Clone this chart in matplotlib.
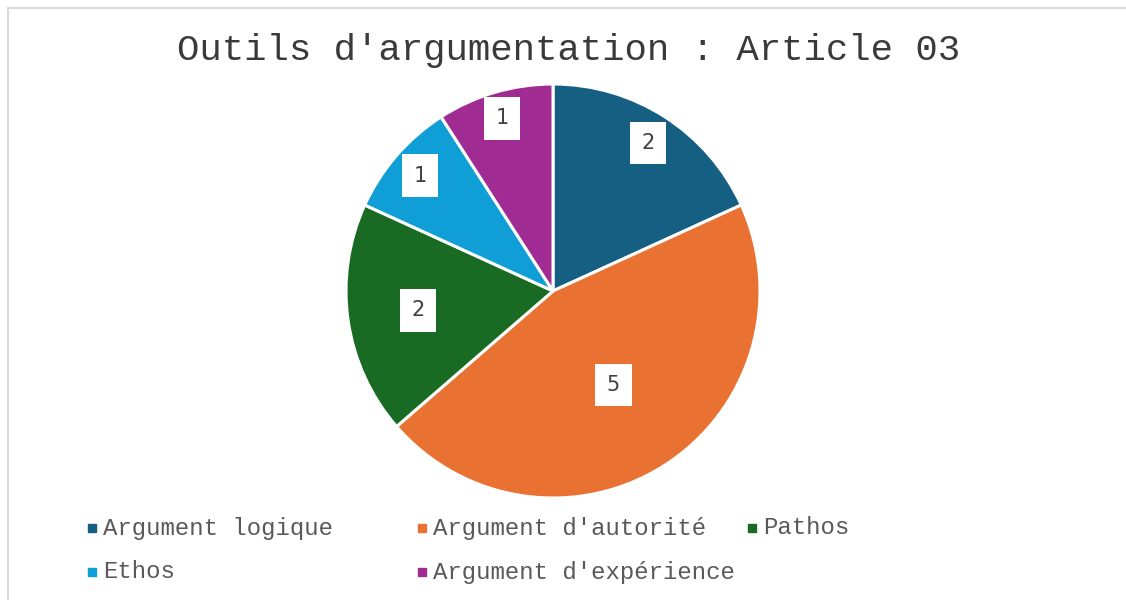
import numpy as np
import matplotlib.pyplot as plt
from matplotlib.patches import Rectangle
from matplotlib.lines import Line2D

labels = ["Argument logique", "Argument d'autorité", "Pathos", "Ethos", "Argument d'expérience"]
values = [2, 5, 2, 1, 1]
colors = ["#156082", "#E97132", "#196B24", "#0F9ED5", "#A02B93"]
label_dist = [0.85, 0.54, 0.66, 0.85, 0.87]

mono = "Liberation Mono"

fig = plt.figure(figsize=(11.26, 6), dpi=100)
fig.patch.set_facecolor("white")

# chart frame (top and left edges only visible)
fig.add_artist(Line2D([8 / 1126, 1], [1 - 8 / 600, 1 - 8 / 600], color="#D9D9D9", lw=1.5))
fig.add_artist(Line2D([8 / 1126, 8 / 1126], [0, 1 - 8 / 600], color="#D9D9D9", lw=1.5))

fig.text(569 / 1126, 1 - 50 / 600, "Outils d'argumentation : Article 03", ha="center", va="center",
         family=mono, fontsize=26.9, color="#3A3A3A")

r = 207
cx, cy = 553, 291
ax = fig.add_axes([(cx - r) / 1126, 1 - (cy + r) / 600, 2 * r / 1126, 2 * r / 600])
wedges, _ = ax.pie(values, colors=colors, startangle=90, counterclock=False,
                   wedgeprops=dict(edgecolor="white", linewidth=2.2))
ax.set_xlim(-1, 1)
ax.set_ylim(-1, 1)
ax.set_aspect("equal")

for w, v, d in zip(wedges, values, label_dist):
    ang = np.deg2rad((w.theta1 + w.theta2) / 2)
    ax.text(d * np.cos(ang), d * np.sin(ang), str(v), ha="center", va="center",
            fontsize=15, color="#404040", family="DejaVu Sans",
            bbox=dict(boxstyle="square,pad=0.55", fc="white", ec="none"))

# legend laid out as in the original: three columns, two rows
cols_x = [88, 418, 748]
rows_y = [528, 572]
for i, (lab, col) in enumerate(zip(labels, colors)):
    x = cols_x[i % 3]
    y = rows_y[i // 3]
    fig.add_artist(Rectangle((x / 1126, 1 - (y + 4) / 600), 8 / 1126, 8 / 600,
                             transform=fig.transFigure, color=col))
    fig.text((x + 15) / 1126, 1 - y / 600, lab, ha="left", va="center",
             family=mono, fontsize=17.3, color="#595959")

fig.savefig("out.png", dpi=100)
